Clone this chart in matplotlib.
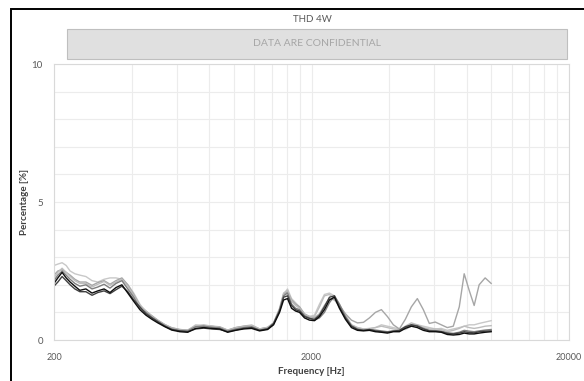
import matplotlib
matplotlib.use("Agg")
import matplotlib.pyplot as plt
from matplotlib.patches import Rectangle
from matplotlib.ticker import FixedLocator, NullFormatter, FixedFormatter

plt.rcParams["font.family"] = ["Lato", "DejaVu Sans"]

# Frequency points (Hz)
freq = [200, 207, 215, 223, 231, 241, 252, 266, 281, 296,
        313, 330, 348, 367, 387, 408, 431, 455, 480, 506,
        539, 573, 616, 661, 710, 763, 819, 880, 945, 1015,
        1090, 1171, 1257, 1351, 1425, 1503, 1558, 1614, 1673, 1734,
        1797, 1879, 1964, 2054, 2148, 2245, 2348, 2455, 2567, 2709,
        2858, 3016, 3182, 3357, 3542, 3737, 3943, 4159, 4388, 4629,
        4884, 5153, 5436, 5735, 6051, 6384, 6735, 7106, 7497, 7834,
        8191, 8565, 8955, 9448, 9970]

# THD (%) per sample
thd_s1 = [2.05, 2.25, 2.45, 2.25, 2.10, 1.95, 1.80, 1.85, 1.70, 1.78,
          1.85, 1.72, 1.90, 2.00, 1.70, 1.40, 1.10, 0.90, 0.75, 0.62,
          0.48, 0.36, 0.30, 0.28, 0.42, 0.45, 0.42, 0.40, 0.28, 0.35,
          0.40, 0.42, 0.33, 0.38, 0.55, 1.00, 1.45, 1.50, 1.15, 1.05,
          1.00, 0.80, 0.72, 0.70, 0.85, 1.10, 1.45, 1.55, 1.15, 0.75,
          0.45, 0.35, 0.33, 0.35, 0.30, 0.28, 0.25, 0.30, 0.30, 0.42,
          0.50, 0.45, 0.35, 0.30, 0.30, 0.28, 0.20, 0.18, 0.20, 0.25,
          0.22, 0.22, 0.25, 0.28, 0.30]
thd_s2 = [1.95, 2.10, 2.30, 2.15, 2.00, 1.85, 1.75, 1.75, 1.62, 1.72,
          1.78, 1.68, 1.82, 1.95, 1.75, 1.45, 1.20, 0.95, 0.80, 0.66,
          0.50, 0.38, 0.33, 0.30, 0.40, 0.43, 0.40, 0.38, 0.30, 0.36,
          0.42, 0.45, 0.35, 0.40, 0.60, 1.05, 1.55, 1.60, 1.25, 1.10,
          1.05, 0.85, 0.78, 0.75, 0.90, 1.20, 1.55, 1.60, 1.20, 0.80,
          0.50, 0.38, 0.35, 0.38, 0.33, 0.30, 0.28, 0.32, 0.35, 0.48,
          0.55, 0.50, 0.40, 0.33, 0.32, 0.30, 0.24, 0.22, 0.25, 0.30,
          0.27, 0.26, 0.30, 0.32, 0.33]
thd_s3 = [2.15, 2.35, 2.50, 2.35, 2.20, 2.05, 1.95, 2.00, 1.85, 1.92,
          2.02, 1.88, 2.05, 2.15, 1.85, 1.55, 1.15, 1.00, 0.82, 0.68,
          0.52, 0.40, 0.34, 0.33, 0.48, 0.50, 0.46, 0.44, 0.32, 0.40,
          0.45, 0.48, 0.36, 0.42, 0.58, 1.10, 1.60, 1.70, 1.30, 1.15,
          1.10, 0.88, 0.80, 0.72, 0.80, 1.00, 1.35, 1.60, 1.30, 0.85,
          0.52, 0.40, 0.36, 0.38, 0.36, 0.33, 0.30, 0.33, 0.33, 0.45,
          0.55, 0.52, 0.42, 0.35, 0.34, 0.32, 0.26, 0.24, 0.28, 0.35,
          0.32, 0.30, 0.33, 0.36, 0.38]
thd_s4 = [2.25, 2.45, 2.60, 2.45, 2.30, 2.15, 2.05, 2.05, 1.92, 2.02,
          2.12, 1.98, 2.10, 2.20, 1.95, 1.60, 1.25, 1.05, 0.85, 0.70,
          0.55, 0.42, 0.36, 0.35, 0.52, 0.55, 0.50, 0.46, 0.35, 0.44,
          0.48, 0.52, 0.40, 0.45, 0.62, 1.15, 1.70, 1.80, 1.40, 1.25,
          1.15, 0.92, 0.85, 0.85, 1.20, 1.60, 1.65, 1.50, 1.20, 0.88,
          0.55, 0.45, 0.40, 0.42, 0.45, 0.50, 0.45, 0.40, 0.36, 0.50,
          0.62, 0.55, 0.45, 0.40, 0.40, 0.38, 0.30, 0.35, 0.42, 0.50,
          0.45, 0.42, 0.45, 0.50, 0.52]
thd_s5 = [2.35, 2.50, 2.55, 2.45, 2.35, 2.20, 2.10, 2.10, 1.98, 2.08,
          2.15, 2.02, 2.15, 2.25, 2.00, 1.65, 1.25, 1.05, 0.88, 0.72,
          0.56, 0.44, 0.38, 0.36, 0.50, 0.52, 0.50, 0.48, 0.36, 0.45,
          0.50, 0.52, 0.40, 0.46, 0.62, 1.10, 1.65, 1.75, 1.45, 1.30,
          1.20, 0.95, 0.85, 0.80, 0.95, 1.25, 1.50, 1.45, 1.25, 0.95,
          0.72, 0.62, 0.64, 0.80, 1.00, 1.10, 0.85, 0.55, 0.40, 0.75,
          1.20, 1.50, 1.10, 0.60, 0.65, 0.55, 0.45, 0.50, 1.20, 2.40,
          1.80, 1.25, 2.00, 2.25, 2.05]
thd_s6 = [2.70, 2.75, 2.80, 2.70, 2.50, 2.40, 2.35, 2.30, 2.15, 2.10,
          2.20, 2.25, 2.25, 2.20, 2.00, 1.70, 1.30, 1.00, 0.85, 0.70,
          0.55, 0.45, 0.38, 0.35, 0.55, 0.50, 0.50, 0.45, 0.35, 0.45,
          0.50, 0.55, 0.40, 0.45, 0.60, 1.10, 1.65, 1.85, 1.50, 1.35,
          1.20, 0.90, 0.85, 0.90, 1.30, 1.65, 1.70, 1.60, 1.30, 0.90,
          0.55, 0.45, 0.40, 0.40, 0.45, 0.55, 0.50, 0.45, 0.40, 0.38,
          0.50, 0.55, 0.50, 0.45, 0.40, 0.42, 0.35, 0.40, 0.45, 0.50,
          0.55, 0.55, 0.60, 0.65, 0.70]

series = [thd_s6, thd_s5, thd_s4, thd_s3, thd_s2, thd_s1]
colors = ["#c8c8c8", "#a6a6a6", "#bdbdbd", "#7f7f7f", "#404040", "#0d0d0d"]

x_major = [200, 2000, 20000]
x_minor = [200 * k for k in range(2, 10)] + [2000 * k for k in range(2, 10)]

fig = plt.figure(figsize=(5.84, 3.81), dpi=100)
ax = fig.add_axes([54 / 584, 1 - 340 / 381, 515 / 584, 276 / 381])

for vals, c in zip(series, colors):
    ax.plot(freq, vals, color=c, linewidth=1.0, solid_joinstyle="round")

ax.set_xscale("log")
ax.set_xlim(200, 20000)
ax.set_ylim(0, 10)
ax.xaxis.set_major_locator(FixedLocator(x_major))
ax.xaxis.set_major_formatter(FixedFormatter([str(v) for v in x_major]))
ax.xaxis.set_minor_locator(FixedLocator(x_minor))
ax.xaxis.set_minor_formatter(NullFormatter())
ax.set_yticks([0, 5, 10])
ax.set_yticks(range(0, 11), minor=True)

ax.grid(True, which="both", color="#ececec", linewidth=0.8)
ax.set_axisbelow(True)
for sp in ax.spines.values():
    sp.set_color("#d9d9d9")
    sp.set_linewidth(0.8)
ax.tick_params(which="both", length=0, labelsize=7, colors="#595959")
ax.tick_params(axis="x", pad=9, labelsize=6.5)
ax.tick_params(axis="y", pad=8)

ax.set_xlabel("Frequency [Hz]", fontsize=7, fontweight="bold", color="#404040", labelpad=4)
ax.set_ylabel("Percentage [%]", fontsize=7, fontweight="bold", color="#404040", labelpad=2)

# chart title and confidentiality banner
fig.text(312 / 584, 1 - 19 / 381, "THD 4W", ha="center", va="center",
         fontsize=7, color="#595959")
fig.patches.append(Rectangle((67 / 584, 1 - 59 / 381), 500 / 584, 30 / 381,
                             transform=fig.transFigure, facecolor="#e0e0e0",
                             edgecolor="#bfbfbf", linewidth=0.8))
fig.text(317 / 584, 1 - 44 / 381, "DATA ARE CONFIDENTIAL", ha="center", va="center",
         fontsize=7.5, color="#a6a6a6")

# outer frame (right edge sits just past the canvas)
fig.patches.append(Rectangle((11 / 584, -0.02), 575 / 584, 1.02 - 8.5 / 381,
                             transform=fig.transFigure, facecolor="none",
                             edgecolor="black", linewidth=1.4))

fig.savefig("out.png", dpi=100)
